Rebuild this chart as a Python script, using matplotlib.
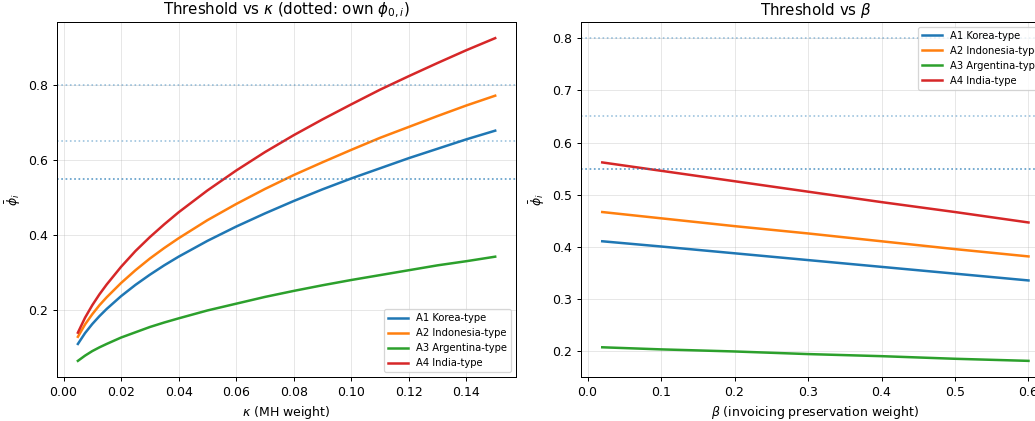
import numpy as np
import matplotlib.pyplot as plt

# DATA
labels = ["A1 Korea-type", "A2 Indonesia-type", "A3 Argentina-type", "A4 India-type"]
colors = ["C0", "C1", "C2", "C3"]

# own phi_0,i (dotted reference lines)
phi0 = [0.55, 0.65, 0.55, 0.80]

# threshold vs kappa
kappa = [0.005, 0.0075, 0.01, 0.0125, 0.015, 0.02, 0.025, 0.03, 0.035, 0.04, 0.05,
         0.06, 0.07, 0.08, 0.09, 0.10, 0.11, 0.12, 0.13, 0.14, 0.15]
thr_kappa_a1 = [0.111, 0.140, 0.164, 0.185, 0.204, 0.238, 0.268, 0.295, 0.320, 0.343,
                0.385, 0.423, 0.458, 0.491, 0.522, 0.551, 0.578, 0.605, 0.630, 0.655, 0.678]
thr_kappa_a2 = [0.130, 0.163, 0.190, 0.214, 0.235, 0.273, 0.307, 0.338, 0.366, 0.392,
                0.440, 0.483, 0.523, 0.560, 0.594, 0.627, 0.659, 0.688, 0.717, 0.745, 0.771]
thr_kappa_a3 = [0.066, 0.080, 0.092, 0.102, 0.111, 0.128, 0.142, 0.156, 0.168, 0.179,
                0.200, 0.218, 0.236, 0.252, 0.267, 0.281, 0.294, 0.307, 0.320, 0.331, 0.343]
thr_kappa_a4 = [0.141, 0.181, 0.214, 0.243, 0.269, 0.316, 0.358, 0.395, 0.429, 0.461,
                0.519, 0.572, 0.621, 0.666, 0.708, 0.748, 0.787, 0.823, 0.858, 0.892, 0.924]

# threshold vs beta
beta = [0.02, 0.1, 0.2, 0.3, 0.4, 0.5, 0.6]
thr_beta_a1 = [0.411, 0.401, 0.388, 0.375, 0.362, 0.349, 0.336]
thr_beta_a2 = [0.467, 0.455, 0.440, 0.426, 0.411, 0.396, 0.382]
thr_beta_a3 = [0.208, 0.204, 0.200, 0.195, 0.191, 0.186, 0.182]
thr_beta_a4 = [0.562, 0.546, 0.526, 0.506, 0.486, 0.467, 0.447]

thr_kappa = [thr_kappa_a1, thr_kappa_a2, thr_kappa_a3, thr_kappa_a4]
thr_beta = [thr_beta_a1, thr_beta_a2, thr_beta_a3, thr_beta_a4]

# FIGURE (original was drawn a bit larger and shrunk, so use dpi 90)
fig = plt.figure(figsize=(11.5, 4.678), dpi=90)
ax1 = fig.add_axes([0.0551, 0.1045, 0.4435, 0.8432])
ax2 = fig.add_axes([0.5613, 0.1045, 0.4530, 0.8432])

# left panel
for y, lab, c in zip(thr_kappa, labels, colors):
    ax1.plot(kappa, y, color=c, lw=2, label=lab)
for p in phi0:
    ax1.axhline(p, color="C0", ls=":", lw=1.3, alpha=0.45)
ax1.set_title(r"Threshold vs $\kappa$ (dotted: own $\phi_{0,i}$)")
ax1.set_xlabel(r"$\kappa$ (MH weight)")
ax1.set_ylabel(r"$\bar{\phi}_i$")
ax1.grid(alpha=0.3)
ax1.legend(loc="lower right", fontsize=8)

# right panel
for y, lab, c in zip(thr_beta, labels, colors):
    ax2.plot(beta, y, color=c, lw=2, label=lab)
for p in phi0:
    ax2.axhline(p, color="C0", ls=":", lw=1.3, alpha=0.45)
ax2.set_title(r"Threshold vs $\beta$")
ax2.set_xlabel(r"$\beta$ (invoicing preservation weight)")
ax2.set_ylabel(r"$\bar{\phi}_i$")
ax2.grid(alpha=0.3)
ax2.legend(loc="upper right", fontsize=8)

plt.savefig("out.png", dpi=90)
